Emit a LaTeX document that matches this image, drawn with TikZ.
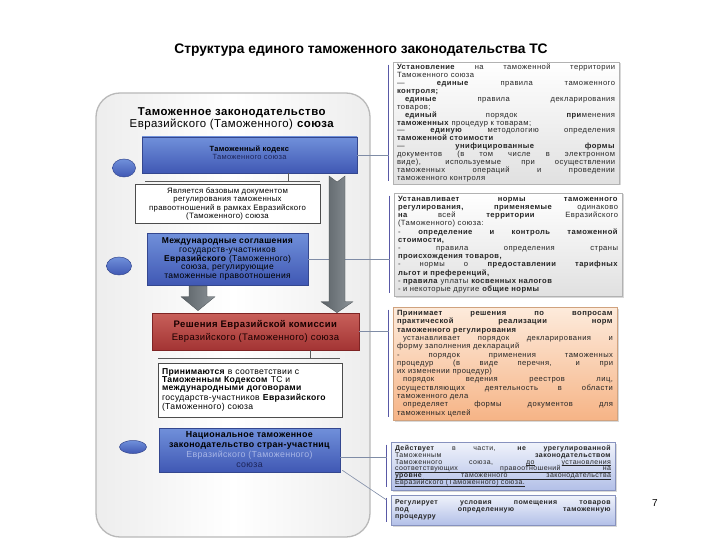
\documentclass[tikz,border=0pt]{standalone}
\usepackage{fontspec}
\setmainfont{Liberation Sans}
\newfontfamily\bxfont[LetterSpace=4]{Liberation Sans}
\newfontfamily\rbfont[LetterSpace=6]{Liberation Sans}
\usetikzlibrary{calc,shadows,shapes.geometric}
\definecolor{bluetop}{HTML}{7090DA}
\definecolor{bluebot}{HTML}{4058B4}
\definecolor{blueedge}{HTML}{34478F}
\definecolor{navytext}{HTML}{1C2458}
\definecolor{paletext}{HTML}{A8B6E6}
\definecolor{redtop}{HTML}{C8605A}
\definecolor{redbot}{HTML}{A33434}
\definecolor{rededge}{HTML}{7E2424}
\definecolor{ortop}{HTML}{FDEBDC}
\definecolor{orbot}{HTML}{F6B486}
\definecolor{oredge}{HTML}{D0A27E}
\definecolor{lbtop}{HTML}{F0F3FB}
\definecolor{lbbot}{HTML}{B3C0E8}
\definecolor{lbedge}{HTML}{8792BE}
\definecolor{arrdark}{HTML}{5A6166}
\definecolor{arrlight}{HTML}{8C9398}
\definecolor{conncol}{HTML}{7F8CA6}
\newlength\jw
\newcommand\jl[1]{\makebox[\jw][s]{\spaceskip=\fontdimen2\font plus 1fil\relax
  \xspaceskip=\spaceskip #1}}
\newcommand\tightlines{\lineskiplimit=-20pt\lineskip=0pt\relax}
\newcommand\ul[1]{\underline{\smash{#1}}}
\tikzset{
  container/.style={draw=gray!55, line width=1.3pt, rounded corners=24pt,
    left color=gray!14, right color=gray!14, middle color=white},
  bluebox/.style={draw=blueedge, line width=0.6pt, top color=bluetop, bottom color=bluebot,
    inner sep=2pt, align=center, text=black},
  redbox/.style={draw=rededge, line width=0.6pt, top color=redtop, bottom color=redbot,
    inner sep=2pt, align=center, text=black!90!red},
  whitebox/.style={draw=black!70, line width=0.7pt, fill=white, inner sep=3pt},
  ell/.style={ellipse, draw=blueedge, line width=0.5pt, top color=bluetop, bottom color=bluebot, inner sep=0pt},
  rbase/.style={line width=0.8pt, inner xsep=4pt, inner ysep=2pt, align=left, text=black!85,
    drop shadow={opacity=0.3, shadow xshift=1.5pt, shadow yshift=-1.5pt}},
  graybox/.style={rbase, draw=gray!60, top color=white, bottom color=gray!24},
  orbox/.style={rbase, draw=oredge, top color=ortop, bottom color=orbot},
  lbbox/.style={rbase, draw=lbedge, top color=lbtop, bottom color=lbbot},
  bracketline/.style={draw=gray!70!blue, line width=0.6pt},
  conn/.style={draw=conncol, line width=0.6pt},
  barline/.style={draw=black!65, line width=0.6pt},
  bigarr/.style={left color=arrdark, right color=arrlight, draw=arrdark!80!black, line width=0.3pt}
}
\begin{document}
\begin{tikzpicture}[x=1pt,y=-1pt]
\useasboundingbox (0,0) rectangle (720,540);
\fill[white] (0,0) rectangle (720,540);

% title
\node[font=\bfseries\fontsize{13.8}{15}\selectfont] (title) at (361,50)
  {Структура единого таможенного законодательства ТС};

% container
\node[container, minimum width=274pt, minimum height=444pt] (cont) at (233,315) {};
\node[font=\bxfont\fontsize{11.4}{12}\selectfont, align=center] (hdr) at (232,119)
  {\textbf{Таможенное законодательство}\\ Евразийского (Таможенного) \textbf{союза}};

% right boxes
\node[graybox, minimum width=226pt, minimum height=122pt, text width=218pt,
      font=\rbfont\fontsize{7.6}{7.9}\selectfont\tightlines] (rb1) at (506,123) {\setlength\jw{218pt}%
\jl{\textbf{Установление} на таможенной территории}\\
Таможенного союза\\
\jl{— \textbf{единые} правила таможенного}\\
\textbf{контроля;}\\
\jl{\hspace*{8pt}\textbf{единые} правила декларирования}\\
товаров;\\
\jl{\hspace*{8pt}\textbf{единый} порядок \textbf{при}менения}\\
\textbf{таможенных} процедур к товарам;\\
\jl{— \textbf{единую} методологию определения}\\
\textbf{таможенной стоимости}\\
\jl{— \textbf{унифицированные} \textbf{формы}}\\
\jl{документов (в том числе в электронном}\\
\jl{виде), используемые при осуществлении}\\
\jl{таможенных операций и проведении}\\
таможенного контроля};

\node[graybox, minimum width=228pt, minimum height=103pt, text width=220pt,
      font=\rbfont\fontsize{7.6}{8.2}\selectfont\tightlines] (rb2) at (508,244.5) {\setlength\jw{220pt}%
\jl{\textbf{Устанавливает нормы таможенного}}\\
\jl{\textbf{регулирования, применяемые} одинаково}\\
\jl{\textbf{на} всей \textbf{территории} Евразийского}\\
(Таможенного) союза:\\
\jl{- \textbf{определение и контроль таможенной}}\\
\textbf{стоимости,}\\
\jl{- правила определения страны}\\
\textbf{происхождения товаров,}\\
\jl{- нормы о \textbf{предоставлении тарифных}}\\
\textbf{льгот и преференций,}\\
- \textbf{правила} уплаты \textbf{косвенных налогов}\\
- и некоторые другие \textbf{общие нормы}};

\node[orbox, minimum width=224pt, minimum height=113pt, text width=216pt,
      font=\rbfont\fontsize{7.6}{8.3}\selectfont\tightlines] (rb3) at (505,363.5) {\setlength\jw{216pt}%
\jl{\textbf{Принимает решения по вопросам}}\\
\jl{\textbf{практической реализации норм}}\\
\textbf{таможенного регулирования}\\
\jl{\hspace*{6pt}устанавливает порядок декларирования и}\\
форму заполнения деклараций\\
\jl{- порядок применения таможенных}\\
\jl{процедур (в виде перечня, и при}\\
их изменении процедур)\\
\jl{\hspace*{6pt}порядок ведения реестров лиц,}\\
\jl{осуществляющих деятельность в области}\\
таможенного дела\\
\jl{\hspace*{6pt}определяет формы документов для}\\
таможенных целей};

\node[lbbox, minimum width=224pt, minimum height=48pt, text width=216pt,
      font=\rbfont\fontsize{7}{6.7}\selectfont\tightlines] (rb4) at (503,466) {\setlength\jw{216pt}%
\jl{\textbf{Действует} в части, \textbf{не урегулированной}}\\
\jl{Таможенным \textbf{законодательством}}\\
\jl{Таможенного союза, \ul{до} \ul{установления}}\\
\ul{\jl{соответствующих правоотношений на}}\\
\ul{\jl{\textbf{уровне} таможенного законодательства}}\\
\ul{Евразийского (Таможенного) союза.}};

\node[lbbox, minimum width=224pt, minimum height=30pt, text width=216pt,
      font=\rbfont\fontsize{7}{6.8}\selectfont\tightlines] (rb5) at (503,510) {\setlength\jw{216pt}%
\jl{\textbf{Регулирует условия помещения товаров}}\\
\jl{\textbf{под определенную таможенную}}\\
\textbf{процедуру}};

\node[font=\fontsize{10}{12}\selectfont] (pg) at (655,503) {7};

% bracket lines left of right boxes
\foreach \b in {rb1,rb2,rb3,rb4,rb5}{
  \coordinate (\b b) at ($(\b.west)+(-4,0)$);
  \draw[bracketline] ($(\b.north west)+(-4,3)$) -- ($(\b.south west)+(-4,-3)$);
}

% left column boxes
\node[bluebox, minimum width=215pt, minimum height=36pt] (tk) at (249.5,155) {};
\node[font=\bxfont\fontsize{7.5}{8}\selectfont, align=center, anchor=north] (tkt) at ($(tk.north)+(0,6)$)
  {\textbf{Таможенный кодекс}\\ {\color{navytext}Таможенного союза}};
\node[ell, minimum width=23pt, minimum height=18pt] (e1) at (124,168) {};

\node[whitebox, minimum width=185pt, minimum height=38pt, align=center,
      font=\bxfont\fontsize{7.8}{8.4}\selectfont] (wb1) at (227.5,204)
  {Является базовым документом\\ регулирования таможенных\\ правоотношений в рамках Евразийского\\ (Таможенного) союза};

\node[bluebox, minimum width=161pt, minimum height=52pt,
      font=\bxfont\fontsize{8.5}{8.8}\selectfont] (mz) at (227.5,259)
  {\textbf{Международные соглашения}\\ государств-участников\\ \textbf{Евразийского} (Таможенного)\\ союза, регулирующие\\ таможенные правоотношения};
\node[ell, minimum width=25pt, minimum height=18pt] (e2) at (119,266) {};

\node[redbox, minimum width=207pt, minimum height=37pt,
      font=\bxfont\fontsize{9.5}{13}\selectfont] (rd) at (255.5,331.5)
  {\textbf{Решения Евразийской комиссии}\\ Евразийского (Таможенного) союза};

\node[whitebox, minimum width=184pt, minimum height=54pt, text width=176pt, align=left,
      font=\bxfont\fontsize{8.6}{8}\selectfont] (wb2) at (250,390)
  {\textbf{Принимаются} в соответствии с\\ \textbf{Таможенным Кодексом} ТС и\\ \textbf{международными договорами}\\ государств-участников \textbf{Евразийского}\\ (Таможенного) союза};

\node[bluebox, minimum width=181pt, minimum height=44pt,
      font=\bxfont\fontsize{8.8}{10}\selectfont] (nt) at (249.5,450)
  {\textbf{Национальное таможенное}\\ \textbf{законодательство стран-участниц}\\ {\color{paletext}Евразийского (Таможенного)}\\ {\color{navytext}союза}};
\node[ell, minimum width=27pt, minimum height=13pt] (e3) at (133,447) {};

% bars above white boxes
\coordinate (j1) at (288,181);
\coordinate (bar1l) at (145,181);
\coordinate (bar1r) at (320,181);
\draw[barline] (tk.south -| j1) -- (j1);
\draw[barline] (bar1l) -- (bar1r);
\coordinate (j2) at (310,358);
\coordinate (bar2l) at (158,358);
\coordinate (bar2r) at (340,358);
\draw[barline] (rd.south -| j2) -- (j2);
\draw[barline] (bar2l) -- (bar2r);

% connectors to right boxes
\draw[conn] (tk.east) -- (tk.east -| rb1b);
\draw[conn] (mz.east) -- (mz.east -| rb2b);
\draw[conn] (rd.east) -- (rd.east -| rb3b);
\coordinate (ntc) at ($(nt.east)+(0,7)$);
\draw[conn] (ntc) -- (ntc -| rb4b);
\coordinate (rb5d) at ($(rb5.west)+(-4,-10)$);
\draw[conn] ($(nt.south east)+(2,-2)$) -- (rb5d);

% big gray arrow from Customs Code to Commission decisions
\coordinate (at) at (337,176);
\coordinate (ab) at (rd.north -| at);
\shade[bigarr] ($(at)+(-8,0)$) -- ($(at)+(0,6)$) -- ($(at)+(8,0)$) -- ($(ab)+(8,-11)$)
  -- ($(ab)+(16,-11)$) -- (ab) -- ($(ab)+(-16,-11)$) -- ($(ab)+(-8,-11)$) -- cycle;

% small gray arrow from agreements to decisions
\coordinate (st) at (198,286);
\coordinate (sb) at ($(rd.north -| st)+(0,-2)$);
\shade[bigarr] ($(st)+(-9,0)$) -- ($(st)+(9,0)$) -- ($(sb)+(9,-14)$) -- ($(sb)+(17,-14)$)
  -- (sb) -- ($(sb)+(-17,-14)$) -- ($(sb)+(-9,-14)$) -- cycle;
\end{tikzpicture}
\end{document}
